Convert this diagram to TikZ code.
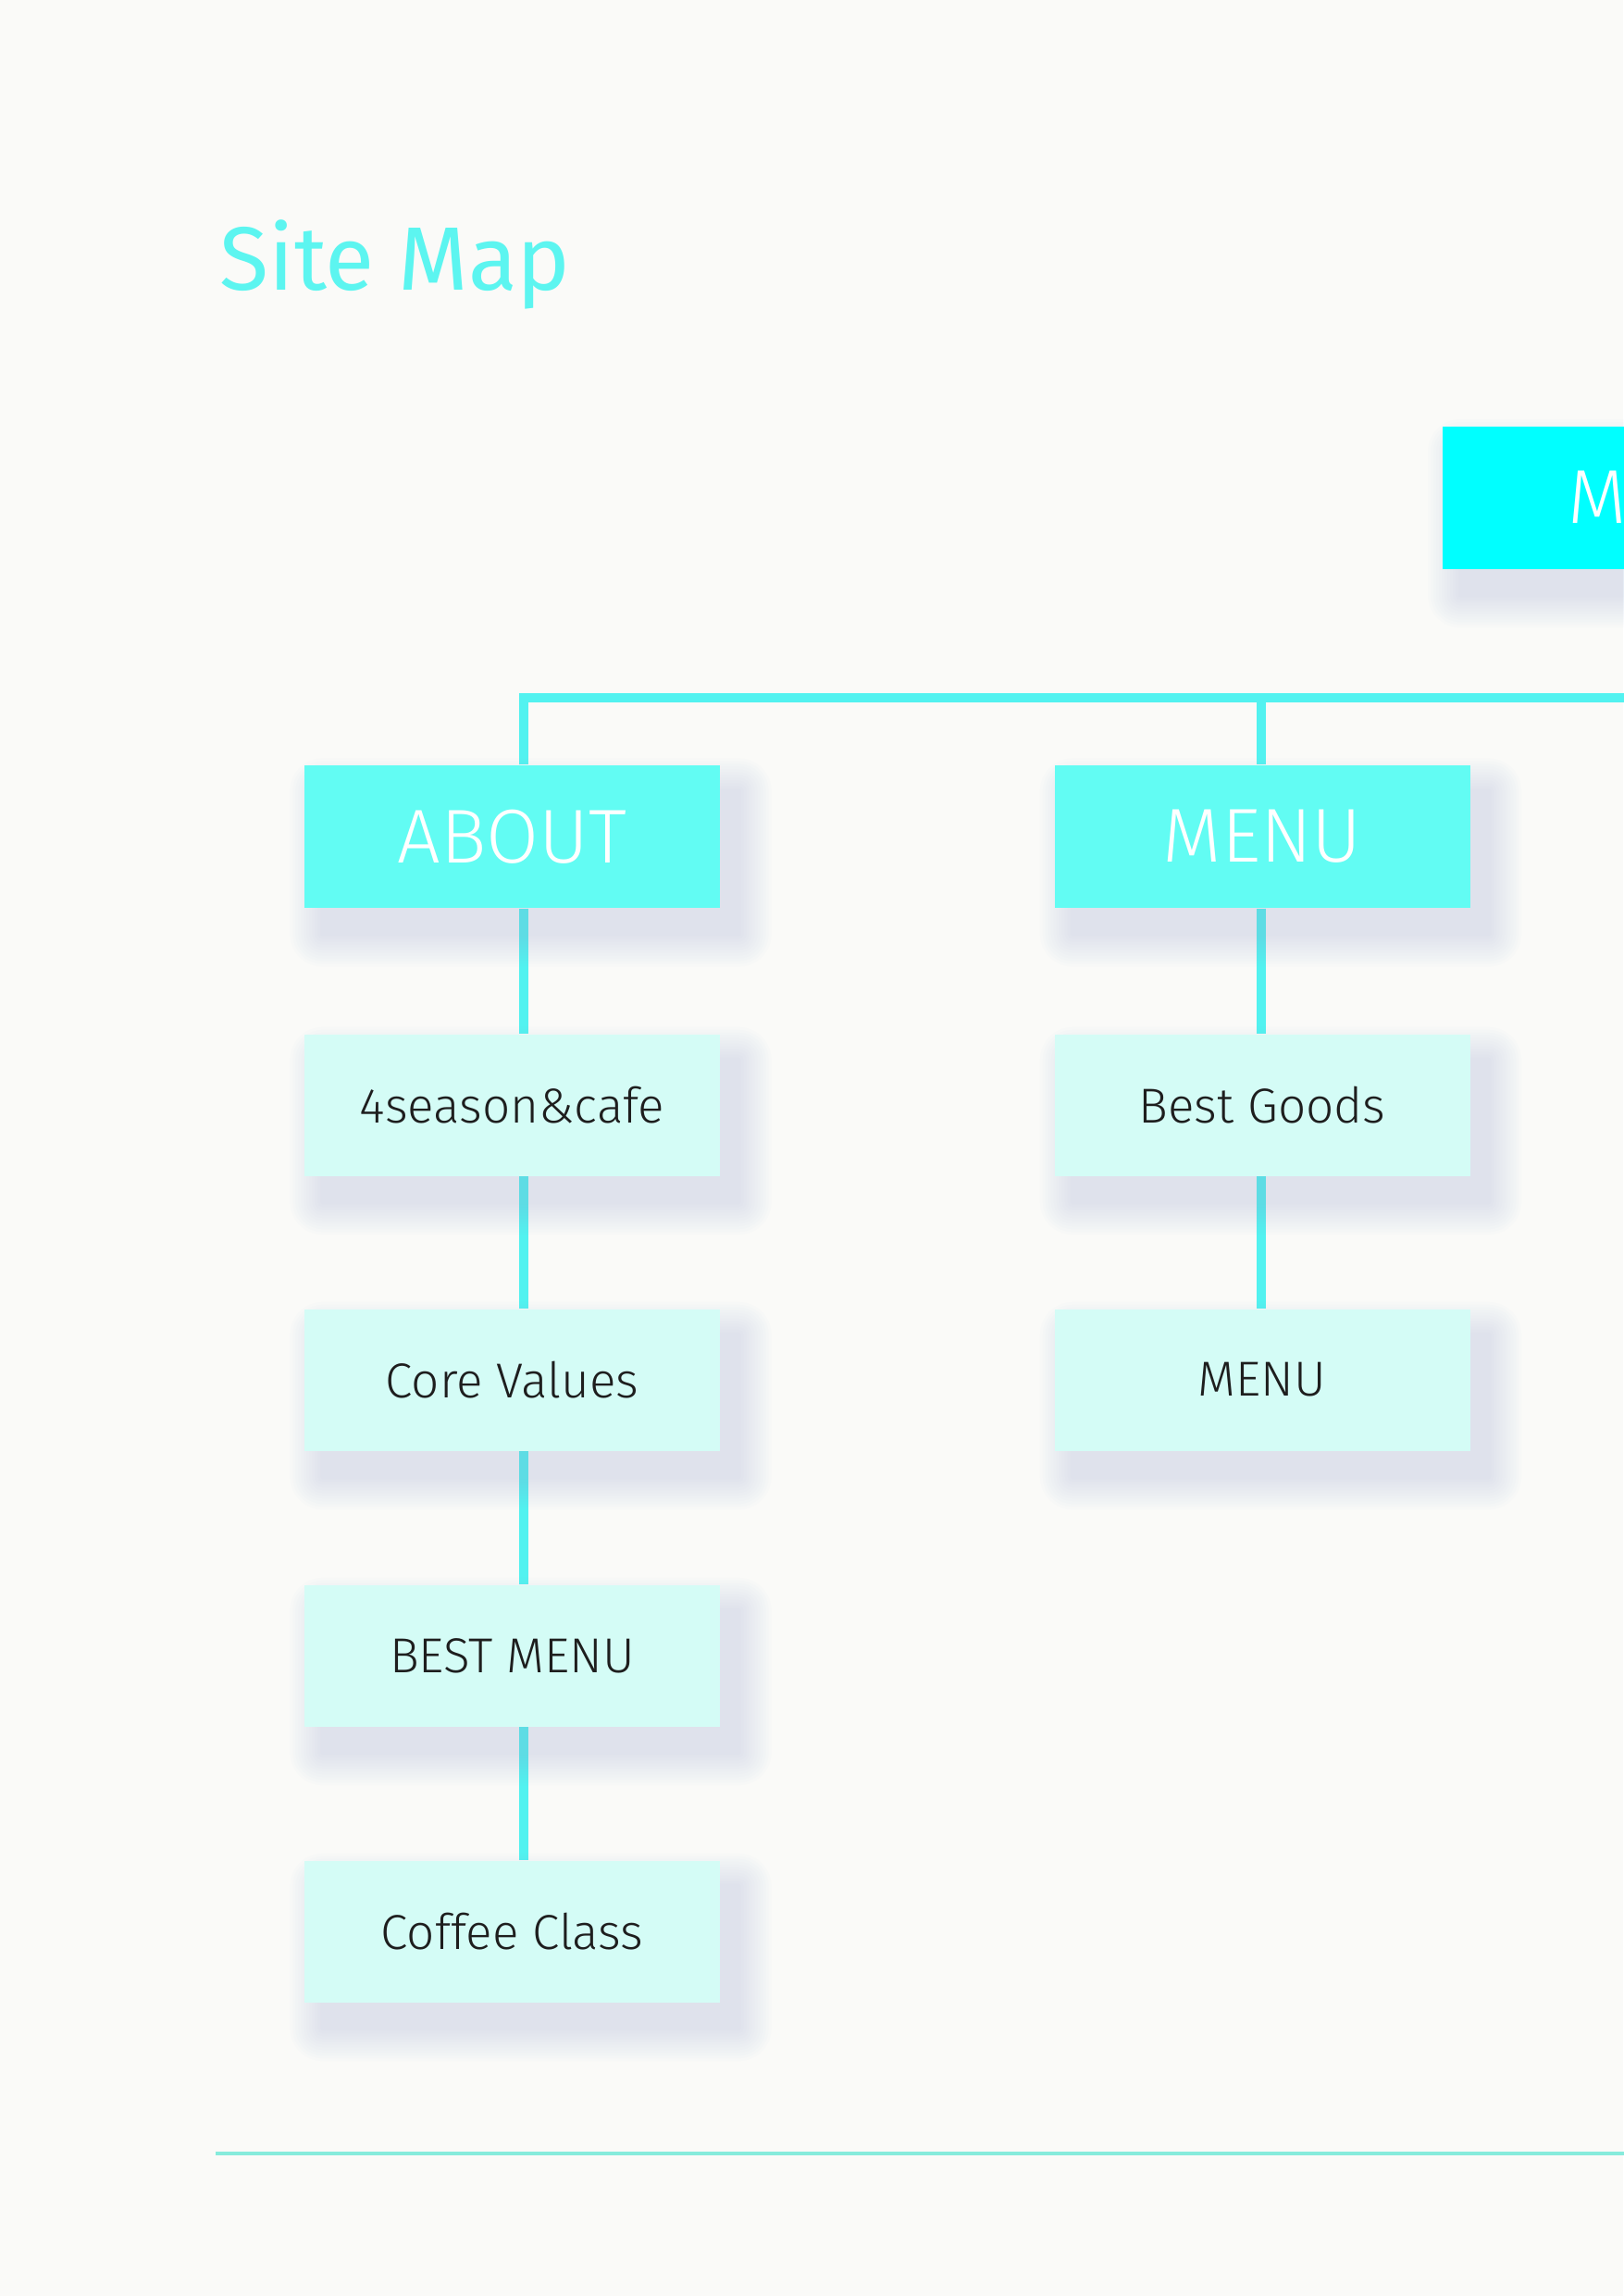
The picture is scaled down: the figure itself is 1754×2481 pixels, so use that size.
\documentclass[tikz,border=0pt]{standalone}
\usepackage{fontspec}
\setmainfont{Fira Sans}
\IfFontExistsTF{Fira Sans Light}{\newfontfamily\lightfont{Fira Sans Light}}{\newfontfamily\lightfont{Fira Sans}}
\usetikzlibrary{calc}
\definecolor{bgc}{HTML}{FAFAF8}
\definecolor{titlec}{HTML}{5CF5F0}
\definecolor{mainc}{HTML}{62FCF3}
\definecolor{subc}{HTML}{D4FCF6}
\definecolor{linec}{HTML}{52F2F0}
\definecolor{topc}{HTML}{00FFFF}
\definecolor{shc}{HTML}{9DB4D8}
\definecolor{footc}{HTML}{86EBDC}
\definecolor{txtc}{HTML}{1E1E1E}
\pgfdeclarelayer{bg}
\pgfdeclarelayer{lines}
\pgfdeclarelayer{shadows}
\pgfsetlayers{bg,lines,shadows,main}
\newcommand\softshadow[1]{%
  \foreach \r in {2,5,...,35}{%
    \fill[shc, opacity=0.024, rounded corners=\r*0.3394pt]
      ([xshift=(20-\r)*0.3394pt, yshift=(-28+\r)*0.3394pt]#1.north west) rectangle
      ([xshift=(20+\r)*0.3394pt, yshift=(-28-\r)*0.3394pt]#1.south east);
  }}
\begin{document}
\begin{tikzpicture}[x=0.3394pt,y=-0.3394pt,
  mainbox/.style={fill=mainc, draw=none, minimum width=449*0.3394pt, minimum height=154*0.3394pt,
    inner sep=0pt, text=white, font=\lightfont\fontsize{28}{32}\selectfont},
  subbox/.style={fill=subc, draw=none, minimum width=449*0.3394pt, minimum height=153*0.3394pt,
    inner sep=0pt, text=txtc, font=\lightfont\fontsize{18}{22}\selectfont},
  topbox/.style={fill=topc, draw=none, minimum width=449*0.3394pt, minimum height=154*0.3394pt, inner sep=0pt},
  conn/.style={draw=linec, line width=10*0.3394pt, line join=miter},
  foot/.style={draw=footc, line width=4*0.3394pt}]
\begin{pgfonlayer}{bg}
\fill[bgc] (0,0) rectangle (1754,2481);
\end{pgfonlayer}
\useasboundingbox (0,0) rectangle (1754,2481);

% title
\node[anchor=base west, inner sep=0pt, text=titlec, font=\fontsize{33}{38}\selectfont] (title) at (237,313) {Site Map};

% top box (cut by page edge)
\node[topbox, anchor=north west] (top) at (1558,460) {};
\node[anchor=base west, inner sep=0pt, text=white, font=\lightfont\fontsize{28}{32}\selectfont] (toptext) at (1694,565) {M};

% level 1
\node[mainbox] (about) at (553.5,904) {ABOUT};
\node[mainbox] (menu) at (1364,904) {MENU};

% level 2
\node[subbox] (a1) at (553.5,1194) {4season\&cafe};
\node[subbox] (a2) at (553.5,1491) {Core Values};
\node[subbox] (a3) at (553.5,1789) {BEST MENU};
\node[subbox] (a4) at (553.5,2087) {Coffee Class};
\node[subbox] (m1) at (1364,1194) {Best Goods};
\node[subbox] (m2) at (1364,1491) {MENU};

% coordinates for connectors
\coordinate (colA) at (566,754);
\coordinate (colB) at (1363,754);
\coordinate (hend) at (1800,754);
\coordinate (footL) at (233,2327);
\coordinate (footR) at (1760,2327);

\begin{pgfonlayer}{lines}
\draw[conn] (about.north -| colA) -- (colA) -- (hend);
\draw[conn] (colB) -- (menu.north -| colB);
\draw[conn] (about.south -| colA) -- (a1.north -| colA);
\draw[conn] (a1.south -| colA) -- (a2.north -| colA);
\draw[conn] (a2.south -| colA) -- (a3.north -| colA);
\draw[conn] (a3.south -| colA) -- (a4.north -| colA);
\draw[conn] (menu.south -| colB) -- (m1.north -| colB);
\draw[conn] (m1.south -| colB) -- (m2.north -| colB);
\draw[foot] (footL) -- (footR);
\end{pgfonlayer}

\begin{pgfonlayer}{shadows}
\softshadow{top}
\softshadow{about}
\softshadow{menu}
\softshadow{a1}
\softshadow{a2}
\softshadow{a3}
\softshadow{a4}
\softshadow{m1}
\softshadow{m2}
\end{pgfonlayer}
\end{tikzpicture}
\end{document}
